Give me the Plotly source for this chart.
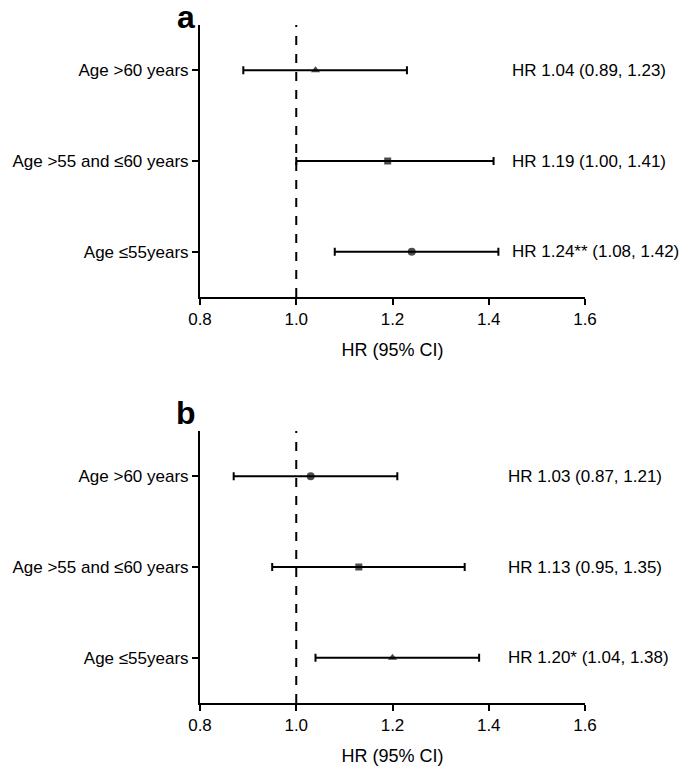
import plotly.graph_objects as go

categories = ["Age >60 years", "Age >55 and ≤60 years", "Age ≤55years"]
row_pos = [1, 2, 3]

# Panel a
a_hr = [1.04, 1.19, 1.24]
a_lo = [0.89, 1.00, 1.08]
a_hi = [1.23, 1.41, 1.42]
a_sym = ["triangle-up", "square", "circle"]
a_text = ["HR 1.04 (0.89, 1.23)", "HR 1.19 (1.00, 1.41)", "HR 1.24** (1.08, 1.42)"]

# Panel b
b_hr = [1.03, 1.13, 1.20]
b_lo = [0.87, 0.95, 1.04]
b_hi = [1.21, 1.35, 1.38]
b_sym = ["circle", "square", "triangle-up"]
b_text = ["HR 1.03 (0.87, 1.21)", "HR 1.13 (0.95, 1.35)", "HR 1.20* (1.04, 1.38)"]

x_ticks = [0.8, 1.0, 1.2, 1.4, 1.6]
x_ticktext = ["0.8", "1.0", "1.2", "1.4", "1.6"]
x_title = "HR (95% CI)"

W, H = 685, 767
FONT = "Liberation Sans, Arial, Helvetica, sans-serif"

fig = go.Figure()

def add_panel(hr, lo, hi, syms, xa, ya):
    fig.add_trace(go.Scatter(
        x=hr, y=row_pos, mode="markers",
        marker=dict(symbol=syms, size=[8 if s != "square" else 7 for s in syms], color="black",
                    line=dict(width=0)),
        error_x=dict(type="data", symmetric=False,
                     array=[h - m for h, m in zip(hi, hr)],
                     arrayminus=[m - l for m, l in zip(hr, lo)],
                     color="black", thickness=2, width=4),
        xaxis=xa, yaxis=ya, showlegend=False, hoverinfo="skip",
    ))

add_panel(a_hr, a_lo, a_hi, a_sym, "x", "y")
add_panel(b_hr, b_lo, b_hi, b_sym, "x2", "y2")

xdom = [200 / W, 585 / W]
ya_dom = [1 - 297 / H, 1 - 25 / H]
yb_dom = [1 - 703 / H, 1 - 431 / H]

xcommon = dict(range=[0.8, 1.6], tickvals=x_ticks, ticktext=x_ticktext,
               showline=True, linewidth=2, linecolor="black", ticks="outside",
               ticklen=6, tickwidth=2, tickcolor="black", showgrid=False, zeroline=False,
               automargin=False,
               tickfont=dict(size=17, color="black", family=FONT),
               title=dict(text=x_title, font=dict(size=18, color="black", family=FONT), standoff=15),
               domain=xdom)
ycommon = dict(range=[3.5, 0.5], tickvals=row_pos, ticktext=categories,
               showline=True, linewidth=2, linecolor="black", ticks="outside",
               ticklen=6, tickwidth=2, tickcolor="black", showgrid=False, zeroline=False,
               automargin=False,
               tickfont=dict(size=17, color="black", family=FONT))

fig.update_layout(
    width=W, height=H, margin=dict(l=0, r=0, t=0, b=0),
    plot_bgcolor="white", paper_bgcolor="white",
    xaxis=dict(anchor="y", **xcommon),
    yaxis=dict(anchor="x", domain=ya_dom, **ycommon),
    xaxis2=dict(anchor="y2", **xcommon),
    yaxis2=dict(anchor="x2", domain=yb_dom, **ycommon),
)

for xr, yr in [("x", "y"), ("x2", "y2")]:
    fig.add_shape(type="line", xref=xr, yref=yr + " domain", x0=1.0, x1=1.0, y0=0, y1=1,
                  line=dict(color="black", width=2, dash="dash"), layer="below")

for txts, yr in [(a_text, "y"), (b_text, "y2")]:
    for t, p in zip(txts, row_pos):
        fig.add_annotation(text=t, xref="paper", yref=yr, x=(510 if yr == "y" else 506) / W, y=p,
                           xanchor="left", yanchor="middle", showarrow=False,
                           font=dict(size=17, color="black", family=FONT))

for letter, ypix in [("a", 17), ("b", 413)]:
    fig.add_annotation(text="<b>" + letter + "</b>", xref="paper", yref="paper",
                       x=186 / W, y=1 - ypix / H, xanchor="center", yanchor="middle",
                       showarrow=False, font=dict(size=32, color="black", family=FONT))

fig.write_html("out.html", config={"displayModeBar": False},
               post_script="document.body.style.margin='0';document.body.style.padding='0';")
